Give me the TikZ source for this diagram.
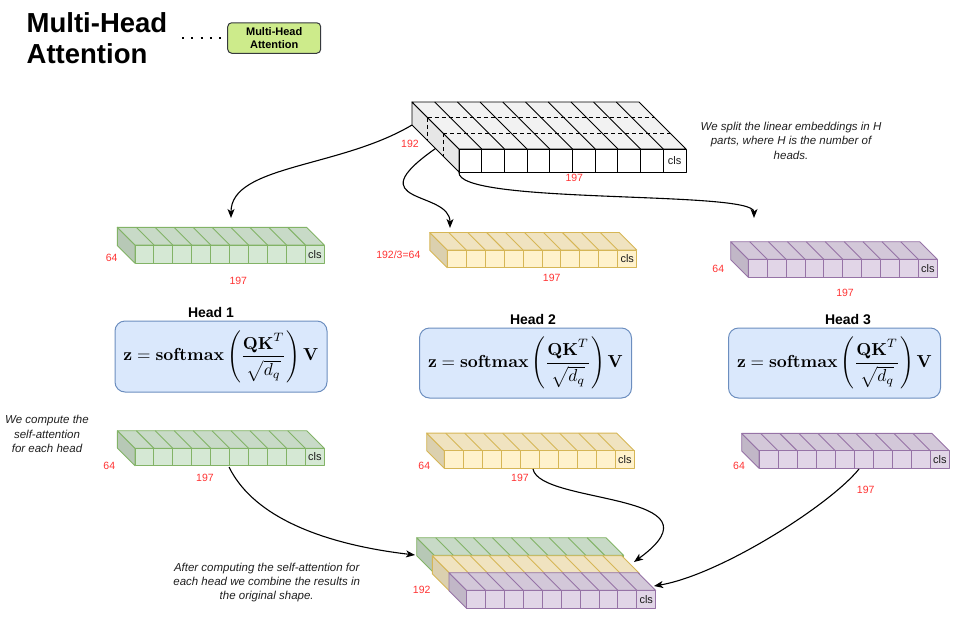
\documentclass[tikz,border=0pt]{standalone}
\usepackage[no-math]{fontspec}
\setmainfont{Liberation Sans}
\usetikzlibrary{arrows.meta}
\definecolor{lblred}{HTML}{FF3333}
\definecolor{clsc}{HTML}{1A1A1A}
\definecolor{wF}{HTML}{FFFFFF}\definecolor{wT}{HTML}{F2F2F2}\definecolor{wS}{HTML}{E6E6E6}\definecolor{wD}{HTML}{000000}
\definecolor{gF}{HTML}{D5E8D4}\colorlet{gT}{gF!94!black}\colorlet{gS}{gF!86!black}\definecolor{gD}{HTML}{82B366}
\definecolor{yF}{HTML}{FFF2CC}\colorlet{yT}{yF!94!black}\colorlet{yS}{yF!86!black}\definecolor{yD}{HTML}{D6B656}
\definecolor{pF}{HTML}{E1D5E7}\colorlet{pT}{pF!94!black}\colorlet{pS}{pF!86!black}\definecolor{pD}{HTML}{9673A6}
\definecolor{hbF}{HTML}{DAE8FC}\definecolor{hbD}{HTML}{6C8EBF}
\definecolor{mbF}{HTML}{CDEB8B}\definecolor{mbD}{HTML}{36393D}
\tikzset{
  slabline/.style={line width=0.9pt, line join=round},
  clsf/.style={font=\fontsize{11}{13}\selectfont, text=clsc, inner sep=0},
  lbl/.style={font=\fontsize{10.5}{12}\selectfont, text=lblred, inner sep=0},
  note/.style={font=\fontsize{11.5}{14.5}\selectfont\itshape, align=center, inner sep=0, text=black!88},
  titlef/.style={font=\fontsize{27.5}{32}\selectfont\bfseries, inner sep=0},
  headlbl/.style={font=\fontsize{14}{16}\selectfont\bfseries, inner sep=0},
  headbox/.style={draw=hbD, fill=hbF, rounded corners=10pt, line width=1pt, minimum width=212pt, inner sep=0},
  arr/.style={draw=black, line width=1.1pt, -{Stealth[length=9pt,width=7pt,inset=2.5pt]}},
  dotline/.style={line width=2pt, dash pattern=on 2pt off 7.3pt},
}
% name, x, y, w, h, d, colour prefix, cls text
\newcommand{\slab}[8]{%
  \begin{scope}[shift={(#2,#3)}]
    \filldraw[draw=#7D, fill=#7S, slabline] (0,0) -- (-#6,-#6) -- (-#6,{#5-#6}) -- (0,#5) -- cycle;
    \filldraw[draw=#7D, fill=#7T, slabline] (0,0) -- (-#6,-#6) -- ({#4-#6},-#6) -- (#4,0) -- cycle;
    \filldraw[draw=#7D, fill=#7F, slabline] (0,0) rectangle (#4,#5);
    \foreach \k in {1,...,9}{
      \draw[draw=#7D, slabline] ({\k*#4/10},0) -- ++(0,#5);
      \draw[draw=#7D, slabline] ({\k*#4/10},0) -- ++(-#6,-#6);
    }
    \if\relax\detokenize{#8}\relax\else
      \node[clsf] (#1-cls) at ({0.95*#4},{#5/2}) {#8};
    \fi
    \coordinate (#1-fbl) at (0,#5);
    \coordinate (#1-bbl) at (-#6,{#5-#6});
    \coordinate (#1-sm) at ({-#6/2},{#5-#6/2});
  \end{scope}}
\newcommand{\hformula}{\resizebox{195pt}{!}{$\displaystyle \mathbf{z}=\mathbf{softmax}\left(\frac{\mathbf{QK}^{T}\rule[-2pt]{0pt}{0pt}}{\rule{0pt}{9.5pt}\sqrt{d_q}}\right)\mathbf{V}$}}
\begin{document}
\begin{tikzpicture}[x=1pt,y=-1pt]
\useasboundingbox (0,0) rectangle (955,616);

% title
\node[titlef, anchor=base west] (title1) at (26.5,32) {Multi-Head};
\node[titlef, anchor=base west] (title2) at (26.5,63.5) {Attention};
\coordinate (dotA) at (182,38);
\coordinate (dotB) at (222,38);
\draw[dotline] (dotA) -- (dotB);
\node[draw=mbD, fill=mbF, rounded corners=4pt, line width=1pt, minimum width=93pt, minimum height=30.5pt,
      align=center, font=\fontsize{11}{13.3}\selectfont\bfseries, inner sep=0] (mhbox) at (274.2,38) {Multi-Head\\Attention};

% top block
\slab{top}{459}{149}{227}{23}{47}{w}{cls}
\begin{scope}[shift={(459,149)}]
  \draw[line width=0.9pt, dash pattern=on 4pt off 3pt] (-15.67,-15.67) -- ++(227,0);
  \draw[line width=0.9pt, dash pattern=on 4pt off 3pt] (-15.67,-15.67) -- ++(0,23);
  \draw[line width=0.9pt, dash pattern=on 4pt off 3pt] (-31.33,-31.33) -- ++(227,0);
  \draw[line width=0.9pt, dash pattern=on 4pt off 3pt] (-31.33,-31.33) -- ++(0,23);
\end{scope}
\node[lbl] (l192a) at (410,144.3) {192};
\node[lbl] (l197a) at (574.3,178.3) {197};
\node[note] (note1) at (791,140.5) {We split the linear embeddings in H\\parts, where H is the number of\\heads.};

% upper head blocks
\slab{g1}{135}{245}{189.3}{18.3}{17.7}{g}{cls}
\node[lbl] (l64a) at (111.7,258.3) {64};
\node[lbl] (l197b) at (238.3,281) {197};
\slab{y1}{447.3}{250}{189.4}{17.7}{17.5}{y}{cls}
\node[lbl] (l64b) at (398.3,254.3) {192/3=64};
\node[lbl] (l197c) at (551.7,277.7) {197};
\slab{p1}{748.3}{259.3}{189}{18}{17.6}{p}{cls}
\node[lbl] (l64c) at (718.3,269.3) {64};
\node[lbl] (l197d) at (845,292.7) {197};

% head boxes
\node[headlbl] (hl1) at (211,312) {Head 1};
\node[headbox, minimum height=71pt] (hb1) at (221,356.5) {\hformula};
\node[headlbl] (hl2) at (533,319.5) {Head 2};
\node[headbox, minimum height=70pt] (hb2) at (525.5,363) {\hformula};
\node[headlbl] (hl3) at (848,319.5) {Head 3};
\node[headbox, minimum height=70pt] (hb3) at (834.5,363) {\hformula};

% lower head blocks
\node[note] (note2) at (47,434.3) {We compute the\\self-attention\\for each head};
\slab{g2}{135}{448.3}{189.3}{17.4}{17.6}{g}{cls}
\node[lbl] (l64d) at (109.3,466) {64};
\node[lbl] (l197e) at (205,478.3) {197};
\slab{y2}{444.3}{450.7}{190}{17.6}{17.6}{y}{cls}
\node[lbl] (l64e) at (424.3,466) {64};
\node[lbl] (l197f) at (520,478.3) {197};
\slab{p2}{759}{450.7}{190.3}{17.6}{17.3}{p}{cls}
\node[lbl] (l64f) at (739,466) {64};
\node[lbl] (l197g) at (865.7,490) {197};

% combined block
\slab{cg}{434.4}{555.4}{189.3}{18}{17.7}{g}{}
\slab{cy}{450}{573.4}{189.3}{18}{17.7}{y}{}
\slab{cp}{466.7}{590.4}{189}{18}{17.7}{p}{cls}
\node[lbl] (l192b) at (421.7,590) {192};
\node[note, font=\fontsize{11.5}{14}\selectfont\itshape] (note3) at (266.7,582.5) {After computing the self-attention for\\each head we combine the results in\\the original shape.};

% connectors
\coordinate (a1e) at (231,218);
\draw[arr] (top-bbl) .. controls (340,168) and (231,165) .. (a1e);
\coordinate (a2e) at (450,228);
\draw[arr] (top-sm) .. controls (355,205) and (450,190) .. (a2e);
\coordinate (a3e) at (754,218);
\draw[arr] (top-fbl) .. controls (455,205) and (754,190) .. (a3e);
\coordinate (a4s) at (229,467);
\coordinate (a4e) at (415,555);
\draw[arr] (a4s) .. controls (255,520) and (330,545) .. (a4e);
\coordinate (a5s) at (533,469);
\coordinate (a5e) at (634,562);
\draw[arr] (a5s) .. controls (540,505) and (730,492) .. (a5e);
\coordinate (a6s) at (859,469);
\coordinate (a6e) at (654,586);
\draw[arr] (a6s) .. controls (830,505) and (720,575) .. (a6e);
\end{tikzpicture}
\end{document}
